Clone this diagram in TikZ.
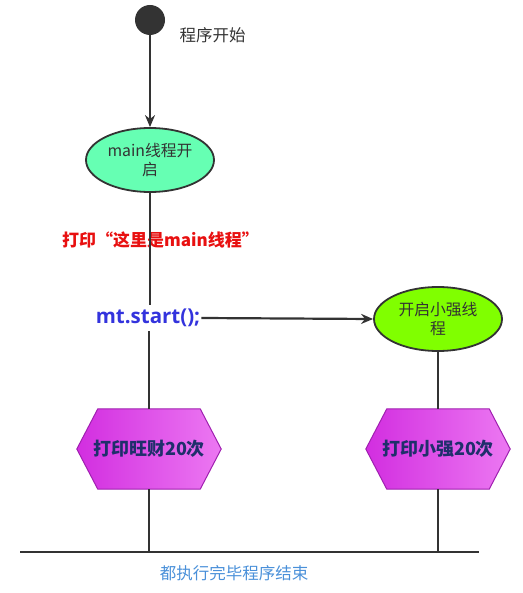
\documentclass[tikz,border=0pt]{standalone}
\usepackage{fontspec}
\setmainfont{Noto Sans CJK SC}
\newfontfamily\latinbold{Open Sans}
\usetikzlibrary{arrows.meta,shapes.geometric,calc}
\definecolor{linegray}{HTML}{333333}
\definecolor{mint}{HTML}{66FFB3}
\definecolor{lime}{HTML}{80FF00}
\definecolor{hexleft}{HTML}{D22EE0}
\definecolor{hexright}{HTML}{EC78F2}
\definecolor{hexborder}{HTML}{A020B0}
\definecolor{hextext}{HTML}{1F2F6B}
\definecolor{redtext}{HTML}{E81010}
\definecolor{bluetext}{HTML}{3333DD}
\definecolor{endtext}{HTML}{4A90D9}
\tikzset{
  conn/.style={draw=linegray, line width=2.2pt},
  arr/.style={conn, -{Stealth[length=12pt,width=10pt]}},
  oval/.style={ellipse, draw=linegray, line width=1.8pt, minimum width=128pt, minimum height=64pt, inner sep=0pt, align=center, font=\fontsize{15.8}{19}\selectfont, text=linegray},
  hexnode/.style={minimum width=144pt, minimum height=80pt, inner sep=0pt, font=\fontsize{18}{21}\selectfont\bfseries, text=hextext},
  hexshape/.style={left color=hexleft, right color=hexright, draw=hexborder, line width=1pt}
}
\begin{document}
\begin{tikzpicture}[x=1pt,y=-1pt]
\useasboundingbox (0,0) rectangle (522,593);
% start
\node[circle, fill=linegray, minimum size=30pt, inner sep=0pt] (start) at (150,20) {};
\node[anchor=west, font=\fontsize{16.5}{19}\selectfont, text=linegray] (startlbl) at (176,35) {程序开始};
% main ellipse
\node[oval, fill=mint] (main) at (150,160) {main线程开\\启};
% red text
\node[font=\fontsize{17}{20}\selectfont\bfseries, text=redtext, anchor=west, inner sep=0pt] (print) at (62,240) {打印“这里是main线程”};
% mt.start
\node[font=\latinbold\fontsize{20.5}{24}\selectfont\bfseries, text=bluetext, inner sep=1pt, minimum height=26pt] (mt) at (148,318) {mt.start();};
% second ellipse
\node[oval, fill=lime] (xq) at (438,319) {开启小强线\\程};
% hexagons
\node[hexnode] (h1) at (149,449) {};
\node[hexnode] (h2) at (438,449) {};
\foreach \h in {h1,h2}{
  \path[hexshape] (\h.west) -- ($(\h.north west)+(21,0)$) -- ($(\h.north east)+(-21,0)$) -- (\h.east) -- ($(\h.south east)+(-21,0)$) -- ($(\h.south west)+(21,0)$) -- cycle;
}
\node[hexnode] at (h1) {打印旺财20次};
\node[hexnode] at (h2) {打印小强20次};
% end line
\coordinate (endL) at (20,552);
\coordinate (endR) at (479,552);
\coordinate (e1) at (149,552);
\coordinate (e2) at (438,552);
\draw[conn] (endL) -- (endR);
\node[font=\fontsize{16.5}{19}\selectfont, text=endtext] (endlbl) at (234,573) {都执行完毕程序结束};
% connectors
\draw[arr] (start) -- (main);
\draw[conn] (main.south) -- (mt.north -| main.south);
\draw[conn] (mt.south -| h1.north) -- (h1.north);
\draw[arr] (mt.east) -- (xq.west);
\draw[conn] (xq.south) -- (h2.north);
\draw[conn] (h1.south) -- (e1);
\draw[conn] (h2.south) -- (e2);
\end{tikzpicture}
\end{document}
